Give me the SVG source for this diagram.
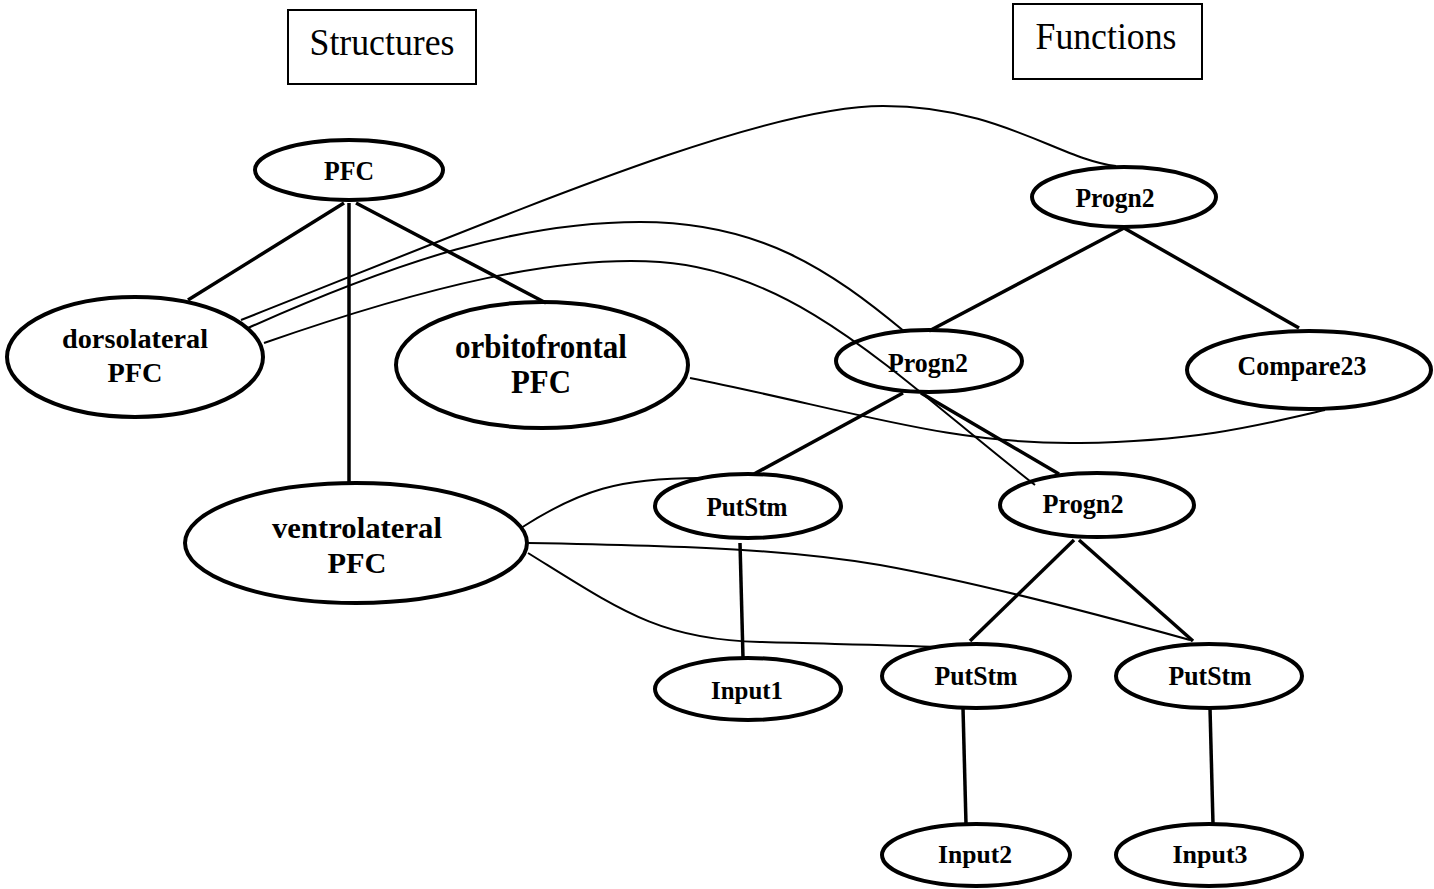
<svg xmlns="http://www.w3.org/2000/svg" width="1434" height="889" viewBox="0 0 1434 889">
<style>
.node{fill:none;stroke:#000;stroke-width:4}
.box{fill:#fff;stroke:#000;stroke-width:2}
.t{font-family:"Liberation Serif","Times New Roman",serif;font-weight:bold;text-anchor:middle;fill:#000}
.h{font-family:"Liberation Serif","Times New Roman",serif;font-size:37px;text-anchor:middle;fill:#000}
.thick{fill:none;stroke:#000;stroke-width:3.5}
.thin{fill:none;stroke:#000;stroke-width:2}
</style>
<rect x="0" y="0" width="1434" height="889" fill="#fff"/>
<g id="title-structures"><rect class="box" x="288" y="10" width="188" height="74"/><text class="h" x="382" y="55" textLength="145" lengthAdjust="spacingAndGlyphs">Structures</text></g>
<g id="title-functions"><rect class="box" x="1013" y="4" width="189" height="75"/><text class="h" x="1106" y="49" textLength="141" lengthAdjust="spacingAndGlyphs">Functions</text></g>
<g id="connectors">
<line class="thick" x1="344" y1="203" x2="188" y2="300"/>
<line class="thick" x1="349" y1="203" x2="349" y2="483"/>
<line class="thick" x1="356" y1="203" x2="546" y2="303"/>
<line class="thick" x1="1124" y1="228" x2="929" y2="331"/>
<line class="thick" x1="1124" y1="228" x2="1299" y2="328"/>
<line class="thick" x1="903" y1="393" x2="754" y2="474"/>
<line class="thick" x1="921" y1="393" x2="1059" y2="474"/>
<line class="thick" x1="740" y1="543" x2="743" y2="658"/>
<line class="thick" x1="1074" y1="540" x2="970" y2="641"/>
<line class="thick" x1="1079" y1="540" x2="1193" y2="641"/>
<line class="thick" x1="963" y1="708" x2="966" y2="824"/>
<line class="thick" x1="1210" y1="708" x2="1213" y2="824"/>
<path class="thin" d="M241,320 C520,210 760,106 883,106 C1000,106 1060,160 1116,166"/>
<path class="thin" d="M248,328 C400,260 520,222 640,222 C760,222 830,270 905,332"/>
<path class="thin" d="M264,343 C430,285 560,255 660,262 C800,272 900,380 1035,485"/>
<path class="thin" d="M690,378 C850,410 950,445 1080,443 C1200,441 1260,425 1325,410"/>
<path class="thin" d="M521,528 C580,490 620,478 700,478"/>
<path class="thin" d="M528,543 C700,546 790,550 880,565 C980,583 1100,615 1190,640"/>
<path class="thin" d="M528,553 C620,610 660,640 760,642 C830,644 890,645 940,647"/>
</g>
<g id="pfc"><ellipse class="node" cx="349" cy="170" rx="94" ry="30"/><text class="t" x="349" y="180" font-size="27" textLength="50" lengthAdjust="spacingAndGlyphs">PFC</text></g>
<g id="dorsolateral"><ellipse class="node" cx="135" cy="357" rx="128" ry="60"/><text class="t" x="135" y="348" font-size="28" textLength="146" lengthAdjust="spacingAndGlyphs">dorsolateral</text><text class="t" x="135" y="382" font-size="28" textLength="55" lengthAdjust="spacingAndGlyphs">PFC</text></g>
<g id="orbitofrontal"><ellipse class="node" cx="542" cy="365" rx="146" ry="63"/><text class="t" x="541" y="358" font-size="33" textLength="172" lengthAdjust="spacingAndGlyphs">orbitofrontal</text><text class="t" x="541" y="393" font-size="33" textLength="60" lengthAdjust="spacingAndGlyphs">PFC</text></g>
<g id="ventrolateral"><ellipse class="node" cx="356" cy="543" rx="171" ry="60"/><text class="t" x="357" y="538" font-size="30" textLength="170" lengthAdjust="spacingAndGlyphs">ventrolateral</text><text class="t" x="357" y="573" font-size="30" textLength="59" lengthAdjust="spacingAndGlyphs">PFC</text></g>
<g id="progn2-top"><ellipse class="node" cx="1124" cy="197" rx="92" ry="30"/><text class="t" x="1115" y="207" font-size="27" textLength="79" lengthAdjust="spacingAndGlyphs">Progn2</text></g>
<g id="progn2-mid"><ellipse class="node" cx="929" cy="361" rx="93" ry="31"/><text class="t" x="928" y="372" font-size="27" textLength="80" lengthAdjust="spacingAndGlyphs">Progn2</text></g>
<g id="compare23"><ellipse class="node" cx="1309" cy="370" rx="122" ry="39"/><text class="t" x="1302" y="375" font-size="27" textLength="129" lengthAdjust="spacingAndGlyphs">Compare23</text></g>
<g id="putstm1"><ellipse class="node" cx="748" cy="506" rx="93" ry="32"/><text class="t" x="747" y="516" font-size="27" textLength="81" lengthAdjust="spacingAndGlyphs">PutStm</text></g>
<g id="progn2-low"><ellipse class="node" cx="1097" cy="505" rx="97" ry="32"/><text class="t" x="1083" y="513" font-size="27" textLength="81" lengthAdjust="spacingAndGlyphs">Progn2</text></g>
<g id="input1"><ellipse class="node" cx="748" cy="689" rx="93" ry="31"/><text class="t" x="747" y="699" font-size="26" textLength="72" lengthAdjust="spacingAndGlyphs">Input1</text></g>
<g id="putstm2"><ellipse class="node" cx="976" cy="676" rx="94" ry="32"/><text class="t" x="976" y="685" font-size="27" textLength="83" lengthAdjust="spacingAndGlyphs">PutStm</text></g>
<g id="putstm3"><ellipse class="node" cx="1209" cy="676" rx="93" ry="32"/><text class="t" x="1210" y="685" font-size="27" textLength="83" lengthAdjust="spacingAndGlyphs">PutStm</text></g>
<g id="input2"><ellipse class="node" cx="976" cy="855" rx="94" ry="31"/><text class="t" x="975" y="863" font-size="26" textLength="74" lengthAdjust="spacingAndGlyphs">Input2</text></g>
<g id="input3"><ellipse class="node" cx="1209" cy="855" rx="93" ry="31"/><text class="t" x="1210" y="863" font-size="26" textLength="75" lengthAdjust="spacingAndGlyphs">Input3</text></g>
</svg>
